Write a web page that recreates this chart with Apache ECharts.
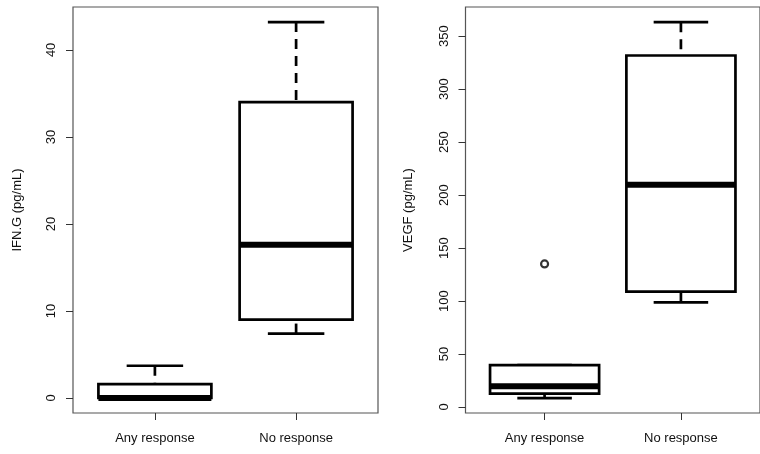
<!DOCTYPE html>
<html>
<head>
<meta charset="utf-8">
<script src="https://cdn.jsdelivr.net/npm/echarts@6/dist/echarts.min.js"></script>
<style>
html,body{margin:0;padding:0;background:#fff;}
#chart{width:760px;height:454px;}
</style>
</head>
<body>
<div id="chart"></div>
<script>
// ---- data ----
const categories = ['Any response', 'No response'];
// [min, Q1, median, Q3, max] per category
const ifngStats = [
  [0.0, 0.0, 0.0, 1.6, 3.7],
  [7.4, 9.0, 17.6, 34.0, 43.2]
];
const vegfStats = [
  [8.3, 12.5, 19.6, 39.5, 39.5],
  [98.8, 108.8, 209.7, 331.8, 363.3]
];
// [category index, value]
const ifngOutliers = [];
const vegfOutliers = [[0, 135]];
const ifngTicks = [0, 10, 20, 30, 40];
const vegfTicks = [0, 50, 100, 150, 200, 250, 300, 350];
const xTicks = [1, 2];

const FONT = 'Liberation Sans, Arial, Helvetica, sans-serif';

function boxData(stats) {
  return stats.map((s, i) => [i + 1].concat(s));
}
function outlierData(list) {
  return list.map(o => [o[0] + 1, o[1]]);
}

function renderBox(params, api) {
  const x = api.value(0);
  const lo = api.value(1), q1 = api.value(2), med = api.value(3), q3 = api.value(4), hi = api.value(5);
  const c = (xv, yv) => api.coord([xv, yv]);
  const center = c(x, med);
  const yLo = c(x, lo)[1], yQ1 = c(x, q1)[1], yMed = center[1], yQ3 = c(x, q3)[1], yHi = c(x, hi)[1];
  const bL = c(x - 0.4, q3)[0], bR = c(x + 0.4, q3)[0];
  const sL = c(x - 0.2, q3)[0], sR = c(x + 0.2, q3)[0];
  const stroke = '#000';
  const lw = 2.7;
  const children = [];
  children.push({type: 'line', shape: {x1: center[0], y1: yHi, x2: center[0], y2: yQ3},
    style: {stroke, lineWidth: lw, lineDash: [10, 7]}});
  children.push({type: 'line', shape: {x1: center[0], y1: yLo, x2: center[0], y2: yQ1},
    style: {stroke, lineWidth: lw, lineDash: [10, 7]}});
  children.push({type: 'line', shape: {x1: sL, y1: yHi, x2: sR, y2: yHi}, style: {stroke, lineWidth: lw}});
  children.push({type: 'line', shape: {x1: sL, y1: yLo, x2: sR, y2: yLo}, style: {stroke, lineWidth: lw}});
  children.push({type: 'rect', shape: {x: bL, y: yQ3, width: bR - bL, height: yQ1 - yQ3},
    style: {fill: '#fff', stroke, lineWidth: lw}});
  children.push({type: 'line', shape: {x1: bL, y1: yMed, x2: bR, y2: yMed}, style: {stroke, lineWidth: 6}});
  return {type: 'group', children};
}

function xAxisDef(gridIndex) {
  return {
    type: 'value', gridIndex, min: 0.42, max: 2.58, position: 'bottom',
    axisLine: {show: false, onZero: false},
    splitLine: {show: false},
    axisTick: {show: true, inside: false, length: 7, customValues: xTicks, lineStyle: {color: '#333', width: 1}},
    axisLabel: {show: true, customValues: xTicks, margin: 19, color: '#111', fontSize: 13, fontFamily: FONT,
      formatter: v => categories[Math.round(v) - 1] || ''}
  };
}
function yAxisDef(gridIndex, min, max, ticks, name, nameGap) {
  return {
    type: 'value', gridIndex, min, max, position: 'left',
    name, nameLocation: 'middle', nameGap, nameRotate: 90,
    nameTextStyle: {color: '#111', fontSize: 13, fontFamily: FONT},
    axisLine: {show: false, onZero: false},
    splitLine: {show: false},
    axisTick: {show: true, inside: false, length: 7, customValues: ticks, lineStyle: {color: '#333', width: 1}},
    axisLabel: {show: true, customValues: ticks, rotate: 90, margin: 15, color: '#111', fontSize: 13, fontFamily: FONT}
  };
}

const chart = echarts.init(document.getElementById('chart'), null, {renderer: 'canvas'});
chart.setOption({
  animation: false,
  backgroundColor: '#fff',
  grid: [
    {left: 73, top: 7, width: 305, height: 406, show: true, borderColor: '#555', borderWidth: 1.2, backgroundColor: 'transparent'},
    {left: 465.5, top: 7, width: 304, height: 406, show: true, borderColor: '#555', borderWidth: 1.2, backgroundColor: 'transparent'}
  ],
  xAxis: [xAxisDef(0), xAxisDef(1)],
  yAxis: [
    yAxisDef(0, -1.728, 44.928, ifngTicks, 'IFN.G (pg/mL)', 49),
    yAxisDef(1, -5.7, 377.6, vegfTicks, 'VEGF (pg/mL)', 51)
  ],
  series: [
    {type: 'custom', xAxisIndex: 0, yAxisIndex: 0, renderItem: renderBox, data: boxData(ifngStats),
      encode: {x: 0, y: [1, 2, 3, 4, 5]}},
    {type: 'custom', xAxisIndex: 1, yAxisIndex: 1, renderItem: renderBox, data: boxData(vegfStats),
      encode: {x: 0, y: [1, 2, 3, 4, 5]}},
    {type: 'scatter', xAxisIndex: 0, yAxisIndex: 0, data: outlierData(ifngOutliers), symbol: 'circle', symbolSize: 7,
      itemStyle: {color: '#fff', borderColor: '#000', borderWidth: 2.2}},
    {type: 'scatter', xAxisIndex: 1, yAxisIndex: 1, data: outlierData(vegfOutliers), symbol: 'circle', symbolSize: 7,
      itemStyle: {color: '#fff', borderColor: '#000', borderWidth: 2.2}}
  ]
});
</script>
</body>
</html>
